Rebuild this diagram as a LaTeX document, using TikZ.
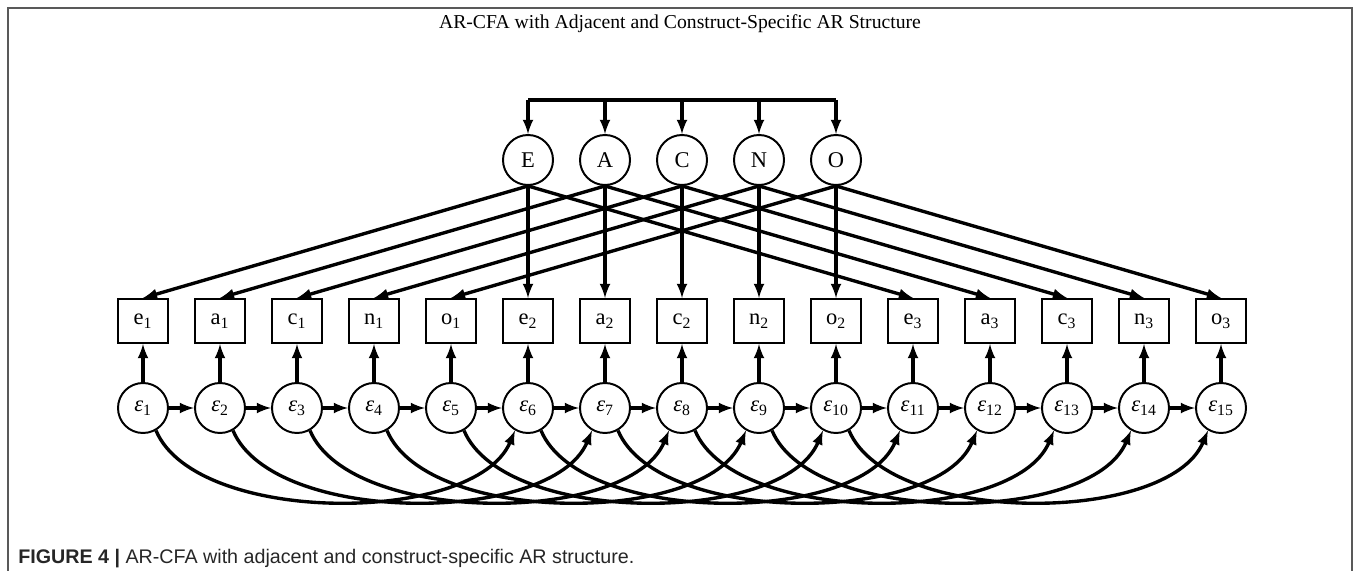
\documentclass[tikz,border=0pt]{standalone}
\usepackage{fontspec}
\setmainfont{Liberation Serif}
\newfontfamily\capfont{Liberation Sans}
\usetikzlibrary{arrows}

\begin{document}
\begin{tikzpicture}[>=latex, x=0.025cm, y=-0.025cm,
factor/.style={circle, draw, line width=1.4pt, minimum size=1.25cm, inner sep=0, font=\fontsize{16}{18}\selectfont},
indicator/.style={rectangle, draw, line width=1.4pt, minimum width=1.27cm, minimum height=1.1cm, inner sep=0, font=\fontsize{16}{18}\selectfont},
resid/.style={circle, draw, line width=1.4pt, minimum size=1.25cm, inner sep=0, font=\fontsize{16}{18}\selectfont},
link/.style={->, line width=2.4pt},
pageframe/.style={line width=1.4pt, black!65}]

% SIZE OF THE FIGURE
\useasboundingbox (0,0) rectangle (1360,571);
% FRAME (open at the bottom)
\coordinate (frameBL) at (8,571);
\coordinate (frameTL) at (8,8);
\coordinate (frameTR) at (1352,8);
\coordinate (frameBR) at (1352,571);
\draw[pageframe] (frameBL) -- (frameTL) -- (frameTR) -- (frameBR);

% TITLE
\node[font=\fontsize{14}{16}\selectfont] (title) at (680,24) {AR-CFA with Adjacent and Construct-Specific AR Structure};

%%%%%%%%% FACTORS %%%%%%%%%%%%%
\node[factor] (E) at (528,160) {E};
\node[factor] (A) at (605,160) {A};
\node[factor] (C) at (682,160) {C};
\node[factor] (N) at (759,160) {N};
\node[factor] (O) at (836,160) {O};
% factor covariances on top
\coordinate (topE) at (528,100);
\coordinate (topA) at (605,100);
\coordinate (topC) at (682,100);
\coordinate (topN) at (759,100);
\coordinate (topO) at (836,100);
\draw[line width=2.4pt] (topE) -- (topO);
\draw[link] (topE) -- (E);
\draw[link] (topA) -- (A);
\draw[link] (topC) -- (C);
\draw[link] (topN) -- (N);
\draw[link] (topO) -- (O);

%%%%%%%%% ITEMS %%%%%%%%%%%%%%%
\node[indicator] (e1) at (143,321) {e\textsubscript{1}};
\node[indicator] (a1) at (220,321) {a\textsubscript{1}};
\node[indicator] (c1) at (297,321) {c\textsubscript{1}};
\node[indicator] (n1) at (374,321) {n\textsubscript{1}};
\node[indicator] (o1) at (451,321) {o\textsubscript{1}};
\node[indicator] (e2) at (528,321) {e\textsubscript{2}};
\node[indicator] (a2) at (605,321) {a\textsubscript{2}};
\node[indicator] (c2) at (682,321) {c\textsubscript{2}};
\node[indicator] (n2) at (759,321) {n\textsubscript{2}};
\node[indicator] (o2) at (836,321) {o\textsubscript{2}};
\node[indicator] (e3) at (913,321) {e\textsubscript{3}};
\node[indicator] (a3) at (990,321) {a\textsubscript{3}};
\node[indicator] (c3) at (1067,321) {c\textsubscript{3}};
\node[indicator] (n3) at (1144,321) {n\textsubscript{3}};
\node[indicator] (o3) at (1221,321) {o\textsubscript{3}};

% loadings
\draw[link] (E.south) -- (e1.north);
\draw[link] (E.south) -- (e2.north);
\draw[link] (E.south) -- (e3.north);
\draw[link] (A.south) -- (a1.north);
\draw[link] (A.south) -- (a2.north);
\draw[link] (A.south) -- (a3.north);
\draw[link] (C.south) -- (c1.north);
\draw[link] (C.south) -- (c2.north);
\draw[link] (C.south) -- (c3.north);
\draw[link] (N.south) -- (n1.north);
\draw[link] (N.south) -- (n2.north);
\draw[link] (N.south) -- (n3.north);
\draw[link] (O.south) -- (o1.north);
\draw[link] (O.south) -- (o2.north);
\draw[link] (O.south) -- (o3.north);

%%%%%%%%% RESIDUALS %%%%%%%%%%%
\node[resid] (eps1) at (143,408) {\textit{ε}\textsubscript{1}};
\node[resid] (eps2) at (220,408) {\textit{ε}\textsubscript{2}};
\node[resid] (eps3) at (297,408) {\textit{ε}\textsubscript{3}};
\node[resid] (eps4) at (374,408) {\textit{ε}\textsubscript{4}};
\node[resid] (eps5) at (451,408) {\textit{ε}\textsubscript{5}};
\node[resid] (eps6) at (528,408) {\textit{ε}\textsubscript{6}};
\node[resid] (eps7) at (605,408) {\textit{ε}\textsubscript{7}};
\node[resid] (eps8) at (682,408) {\textit{ε}\textsubscript{8}};
\node[resid] (eps9) at (759,408) {\textit{ε}\textsubscript{9}};
\node[resid] (eps10) at (836,408) {\textit{ε}\textsubscript{10}};
\node[resid] (eps11) at (913,408) {\textit{ε}\textsubscript{11}};
\node[resid] (eps12) at (990,408) {\textit{ε}\textsubscript{12}};
\node[resid] (eps13) at (1067,408) {\textit{ε}\textsubscript{13}};
\node[resid] (eps14) at (1144,408) {\textit{ε}\textsubscript{14}};
\node[resid] (eps15) at (1221,408) {\textit{ε}\textsubscript{15}};

% residual -> item
\draw[link] (eps1) -- (e1);
\draw[link] (eps2) -- (a1);
\draw[link] (eps3) -- (c1);
\draw[link] (eps4) -- (n1);
\draw[link] (eps5) -- (o1);
\draw[link] (eps6) -- (e2);
\draw[link] (eps7) -- (a2);
\draw[link] (eps8) -- (c2);
\draw[link] (eps9) -- (n2);
\draw[link] (eps10) -- (o2);
\draw[link] (eps11) -- (e3);
\draw[link] (eps12) -- (a3);
\draw[link] (eps13) -- (c3);
\draw[link] (eps14) -- (n3);
\draw[link] (eps15) -- (o3);

% adjacent AR
\draw[link] (eps1) -- (eps2);
\draw[link] (eps2) -- (eps3);
\draw[link] (eps3) -- (eps4);
\draw[link] (eps4) -- (eps5);
\draw[link] (eps5) -- (eps6);
\draw[link] (eps6) -- (eps7);
\draw[link] (eps7) -- (eps8);
\draw[link] (eps8) -- (eps9);
\draw[link] (eps9) -- (eps10);
\draw[link] (eps10) -- (eps11);
\draw[link] (eps11) -- (eps12);
\draw[link] (eps12) -- (eps13);
\draw[link] (eps13) -- (eps14);
\draw[link] (eps14) -- (eps15);

% construct-specific AR
\draw[link] (eps1.-60) .. controls +(40,95) and +(-40,95) .. (eps6.-120);
\draw[link] (eps2.-60) .. controls +(40,95) and +(-40,95) .. (eps7.-120);
\draw[link] (eps3.-60) .. controls +(40,95) and +(-40,95) .. (eps8.-120);
\draw[link] (eps4.-60) .. controls +(40,95) and +(-40,95) .. (eps9.-120);
\draw[link] (eps5.-60) .. controls +(40,95) and +(-40,95) .. (eps10.-120);
\draw[link] (eps6.-60) .. controls +(40,95) and +(-40,95) .. (eps11.-120);
\draw[link] (eps7.-60) .. controls +(40,95) and +(-40,95) .. (eps12.-120);
\draw[link] (eps8.-60) .. controls +(40,95) and +(-40,95) .. (eps13.-120);
\draw[link] (eps9.-60) .. controls +(40,95) and +(-40,95) .. (eps14.-120);
\draw[link] (eps10.-60) .. controls +(40,95) and +(-40,95) .. (eps15.-120);

% CAPTION
\node[anchor=base west, inner sep=0, font=\capfont\fontsize{14}{16}\selectfont, text=black!85] (caption) at (18,563) {\textbf{FIGURE 4 |} AR-CFA with adjacent and construct-specific AR structure.};
\end{tikzpicture}
\end{document}
